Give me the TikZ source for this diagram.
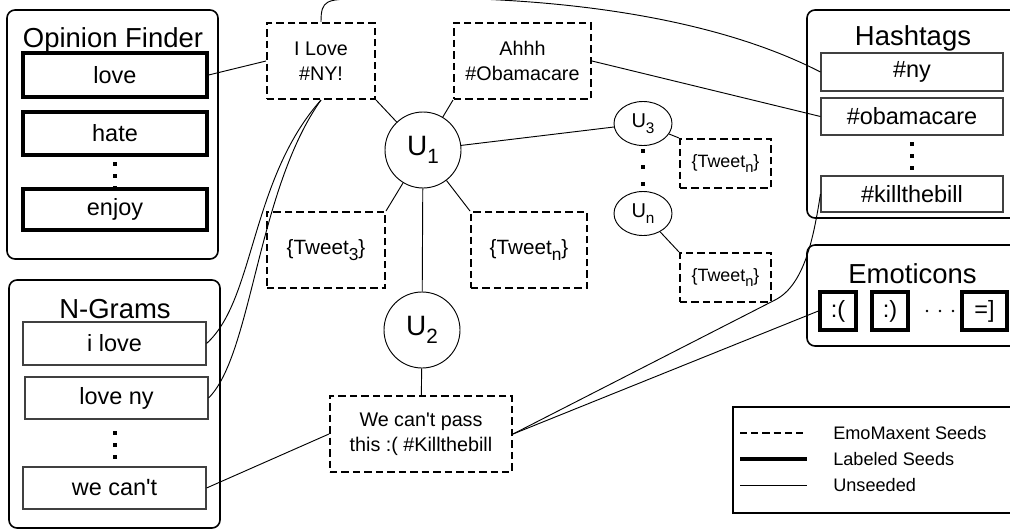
\documentclass[tikz,border=0pt]{standalone}
\usepackage{fontspec}
\setmainfont{Liberation Sans}
\usetikzlibrary{shapes.geometric}
\newdimen\pxu \pxu=0.75pt
% lowered subscript: size, drop, text
\newcommand\lowsub[3]{\raisebox{-#2}{\fontsize{#1}{#1}\selectfont #3}}

\begin{document}
\begin{tikzpicture}[x=0.75pt,y=-0.75pt,
  groupbox/.style={draw, rounded corners=6pt, line width=1.2pt, inner sep=0pt},
  grouptitle/.style={font=\fontsize{20.6}{22}\selectfont, inner sep=0pt},
  seedbox/.style={draw, line width=2.4pt, inner sep=0pt, font=\fontsize{17.6}{20}\selectfont},
  plainbox/.style={draw=black!75, line width=0.8pt, inner sep=0pt, font=\fontsize{17.6}{20}\selectfont},
  tweetbox/.style={draw, line width=1.5pt, dash pattern=on 5.6pt off 3pt, inner sep=0pt, align=center,
                   font=\fontsize{14.8}{18.75}\selectfont, execute at begin node={\vspace*{5pt}}},
  smalltweet/.style={draw, line width=1.5pt, dash pattern=on 5.6pt off 3pt, inner sep=0pt,
                     font=\fontsize{13.4}{15}\selectfont},
  user/.style={draw, circle, line width=0.7pt, minimum size=76\pxu, inner sep=0pt, font=\fontsize{21}{21}\selectfont},
  smalluser/.style={draw, ellipse, line width=0.7pt, minimum width=58\pxu, minimum height=44\pxu, inner sep=0pt,
                    font=\fontsize{15}{15}\selectfont},
  link/.style={line width=0.7pt},
  legendtext/.style={anchor=west, inner sep=0pt, font=\fontsize{13.6}{15}\selectfont}
]
\useasboundingbox (0,0) rectangle (1010,529);
\clip (0,0) rectangle (1010,529);

% ---------- Opinion Finder ----------
\node[groupbox, minimum width=211\pxu, minimum height=249\pxu] (of) at (112.5,134.5) {};
\node[grouptitle, anchor=base] (oftitle) at (113,47) {Opinion Finder};
\node[seedbox, minimum width=184\pxu, minimum height=44\pxu] (love) at (115,75) {love};
\node[seedbox, minimum width=184\pxu, minimum height=43\pxu] (hate) at (115,133.5) {hate};
\foreach \y in {164,176,188} \fill (115,\y) ++(-1.6,-1.6) rectangle ++(3.2,3.2);
\node[seedbox, minimum width=184\pxu, minimum height=41\pxu] (enjoy) at (115,209.5) {enjoy};

% ---------- N-Grams ----------
\node[groupbox, minimum width=211\pxu, minimum height=248\pxu] (ng) at (114.5,404) {};
\node[grouptitle, anchor=base] (ngtitle) at (115,318) {N-Grams};
\node[plainbox, minimum width=183\pxu, minimum height=43\pxu] (ilove) at (114.5,343.5) {i love};
\node[plainbox, minimum width=183\pxu, minimum height=42\pxu] (loveny) at (116.5,398) {love ny};
\foreach \y in {433,445,457} \fill (115,\y) ++(-1.6,-1.6) rectangle ++(3.2,3.2);
\node[plainbox, minimum width=183\pxu, minimum height=42\pxu] (wecant) at (114.5,488) {we can\textquotesingle t};

% ---------- Hashtags ----------
\node[groupbox, minimum width=211\pxu, minimum height=208\pxu] (ht) at (912.5,114) {};
\node[grouptitle, anchor=base] (httitle) at (913,45) {Hashtags};
\node[plainbox, minimum width=182\pxu, minimum height=38\pxu] (ny) at (912,72) {\#ny};
\node[plainbox, minimum width=182\pxu, minimum height=37\pxu] (obama) at (912,116.5) {\#obamacare};
\foreach \y in {144,156,168} \fill (912,\y) ++(-1.6,-1.6) rectangle ++(3.2,3.2);
\node[plainbox, minimum width=182\pxu, minimum height=36\pxu] (kill) at (912,194) {\#killthebill};

% ---------- Emoticons ----------
\node[groupbox, minimum width=211\pxu, minimum height=101\pxu] (em) at (912.5,295.5) {};
\node[grouptitle, anchor=base] (emtitle) at (912.5,283) {Emoticons};
\node[seedbox, minimum width=36\pxu, minimum height=38\pxu] (sad) at (838,311) {:(};
\node[seedbox, minimum width=36\pxu, minimum height=38\pxu] (happy) at (890,311) {:)};
\foreach \x in {927,940,953} \fill (\x,311) circle (1.3);
\node[seedbox, minimum width=45\pxu, minimum height=38\pxu] (grin) at (984.5,311) {=]};

% ---------- tweets and users ----------
\node[tweetbox, minimum width=108\pxu, minimum height=76\pxu] (tny) at (321,61) {I Love\\\#NY!};
\node[tweetbox, minimum width=137\pxu, minimum height=76\pxu] (tobama) at (522.5,61) {Ahhh\\\#Obamacare};
\node[user] (u1) at (423,150) {U\lowsub{15.5}{6pt}{1}};
\node[smalltweet, font=\fontsize{15.5}{18}\selectfont, minimum width=118\pxu, minimum height=76\pxu] (tthree) at (326,250)
  {\{Tweet\lowsub{13}{5pt}{3}\}};
\node[smalltweet, font=\fontsize{15.5}{18}\selectfont, minimum width=116\pxu, minimum height=76\pxu] (tn) at (529,250)
  {\{Tweet\lowsub{13}{5pt}{n}\}};
\node[user] (u2) at (422,330) {U\lowsub{15.5}{6pt}{2}};
\node[tweetbox, minimum width=182\pxu, minimum height=76\pxu] (tkill) at (421,434)
  {We can\textquotesingle t pass\\this :( \#Killthebill};
\node[smalluser] (u3) at (643,123.5) {U\lowsub{11.5}{4.5pt}{3}};
\node[smalltweet, minimum width=91\pxu, minimum height=49\pxu] (tu3) at (725.5,163.5)
  {\{Tweet\lowsub{11}{4pt}{n}\}};
\foreach \y in {151,167,184} \fill (643,\y) ++(-1.7,-1.7) rectangle ++(3.4,3.4);
\node[smalluser] (un) at (643,213.5) {U\lowsub{11.5}{4.5pt}{n}};
\node[smalltweet, minimum width=91\pxu, minimum height=49\pxu] (tun) at (725.5,277.5)
  {\{Tweet\lowsub{11}{4pt}{n}\}};

% ---------- connectors ----------
\draw[link] (tny.south east) -- (u1);
\draw[link] (tobama.south west) -- (u1);
\draw[link] (tthree.north east) -- (u1);
\draw[link] (tn.north west) -- (u1);
\draw[link] (u1) -- (u3);
\draw[link] (u1) -- (u2);
\draw[link] (u2) -- (tkill);
\draw[link] (u3) -- (tu3.north west);
\draw[link] (un) -- (tun.north west);

\draw[link] (love.east) -- (tny.west);
\draw[link] (tobama.east) -- (obama.west);
\draw[link] (tny.north) .. controls (321,0) and (326,-1) .. (360,-1)
  .. controls (520,-7) and (700,10) .. (ny.west);
\draw[link] (tny.south) .. controls (250,180) and (255,300) .. (ilove.east);
\draw[link] (tny.south) .. controls (257,190) and (252,355) .. (loveny.east);
\draw[link] (tkill.west) -- (wecant.east);
\draw[link] (tkill.east) -- (sad.west);
\draw[link] (tkill.east) -- (775,300) .. controls (805,285) and (814,235) .. (kill.west);

% ---------- legend ----------
\node[draw, line width=1.2pt, minimum width=285\pxu, minimum height=106\pxu, inner sep=0pt] (legend) at (875.5,460) {};
\coordinate (la1) at (740,433); \coordinate (lb1) at (807,433);
\coordinate (la2) at (740,459); \coordinate (lb2) at (807,459);
\coordinate (la3) at (740,485); \coordinate (lb3) at (807,485);
\draw[line width=1.3pt, dash pattern=on 5.4pt off 3pt] (la1) -- (lb1);
\draw[line width=3pt] (la2) -- (lb2);
\draw[line width=0.7pt] (la3) -- (lb3);
\node[legendtext] (lt1) at (833,433) {EmoMaxent Seeds};
\node[legendtext] (lt2) at (833,459) {Labeled Seeds};
\node[legendtext] (lt3) at (833,485) {Unseeded};
\end{tikzpicture}
\end{document}
